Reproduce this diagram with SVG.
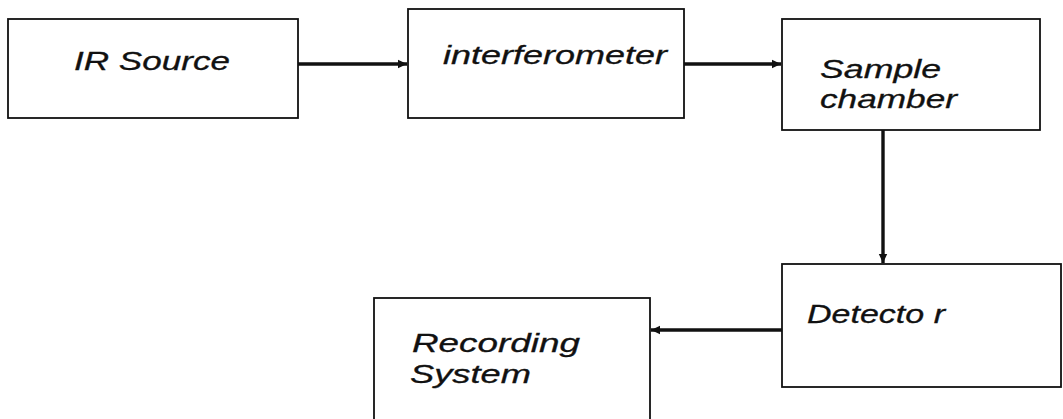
<svg xmlns="http://www.w3.org/2000/svg" width="1063" height="419" viewBox="0 0 1063 419">
  <style>
    .box { fill: #ffffff; stroke: #111111; stroke-width: 1.8; }
    .label { font-family: "Liberation Sans", Arial, sans-serif; font-style: italic; font-size: 25px; fill: #111111; stroke: #111111; stroke-width: 0.3; }
    .link { fill: none; stroke: #111111; stroke-width: 3.4; marker-end: url(#head); }
  </style>
  <defs>
    <marker id="head" markerUnits="userSpaceOnUse" markerWidth="10" markerHeight="10" refX="9" refY="5" orient="auto">
      <path d="M0,0.8 L9,5 L0,9.2 Z" fill="#111111"/>
    </marker>
  </defs>
  <rect width="1063" height="419" fill="#ffffff"/>

  <g id="ir-source">
    <rect class="box" x="8" y="19" width="290" height="99"/>
    <text class="label" x="74" y="70" textLength="156" lengthAdjust="spacingAndGlyphs">IR Source</text>
  </g>

  <g id="interferometer">
    <rect class="box" x="408" y="9" width="276" height="109"/>
    <text class="label" x="443" y="64" textLength="224" lengthAdjust="spacingAndGlyphs">interferometer</text>
  </g>

  <g id="sample-chamber">
    <rect class="box" x="782" y="19" width="258" height="111"/>
    <text class="label" x="820" y="78" textLength="121" lengthAdjust="spacingAndGlyphs">Sample</text>
    <text class="label" x="820" y="108" textLength="137" lengthAdjust="spacingAndGlyphs">chamber</text>
  </g>

  <g id="detector">
    <rect class="box" x="782" y="264" width="279" height="123"/>
    <text class="label" x="807" y="323" textLength="138" lengthAdjust="spacingAndGlyphs">Detecto r</text>
  </g>

  <g id="recording-system">
    <rect class="box" x="374" y="298" width="276" height="130"/>
    <text class="label" x="412" y="352" textLength="168" lengthAdjust="spacingAndGlyphs">Recording</text>
    <text class="label" x="410" y="383" textLength="121" lengthAdjust="spacingAndGlyphs">System</text>
  </g>

  <g id="connectors">
    <line class="link" x1="298" y1="64" x2="407" y2="64"/>
    <line class="link" x1="684" y1="64" x2="781" y2="64"/>
    <line class="link" x1="883" y1="130" x2="883" y2="263"/>
    <line class="link" x1="782" y1="330" x2="651" y2="330"/>
  </g>
</svg>
